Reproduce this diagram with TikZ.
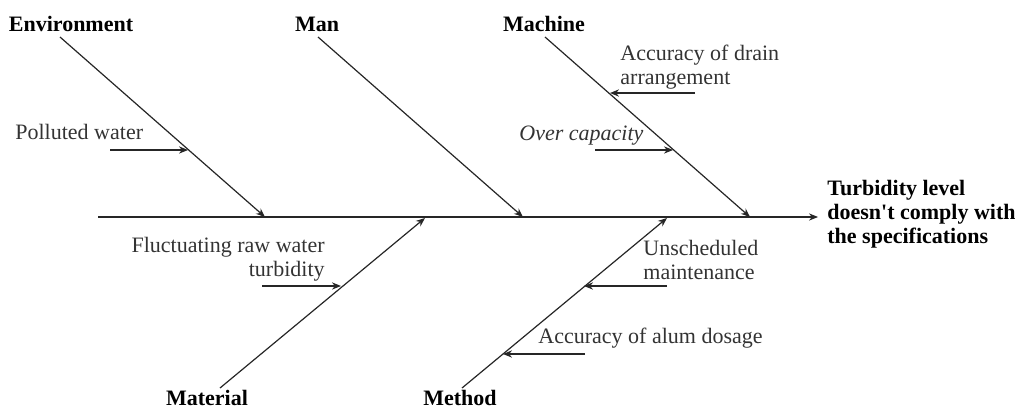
\documentclass[tikz,border=0pt]{standalone}
\usepackage{fontspec}
\setmainfont{Liberation Serif}
\usetikzlibrary{arrows.meta}

\begin{document}
\begin{tikzpicture}[x=0.5pt,y=-0.5pt,
  bone/.style={-{Stealth[length=4.5pt,width=3.6pt]}, line width=0.6pt, black!85},
  cat/.style={font=\fontsize{11}{12}\selectfont\bfseries, inner sep=0pt},
  cause/.style={font=\fontsize{11}{12}\selectfont, inner sep=0pt, text=black!80}]
\useasboundingbox (0,0) rectangle (1015,407);
% spine
\coordinate (tail) at (98,217);
\coordinate (head) at (818,217);
\node [cat, anchor=base west, align=left] (effect) at (827,243) {Turbidity level\\doesn\textquotesingle t comply with\\the specifications};
\draw [bone] (tail) -- (head);
% categories
\node [cat, anchor=base] (env) at (71,31) {Environment};
\node [cat, anchor=base] (man) at (317,31) {Man};
\node [cat, anchor=base] (mach) at (544,31) {Machine};
\node [cat, anchor=base] (mat) at (207,405) {Material};
\node [cat, anchor=base] (meth) at (460,405) {Method};
% bones
\coordinate (envA) at (60,37);   \coordinate (envB) at (265,217);
\coordinate (manA) at (318,37);  \coordinate (manB) at (523,217);
\coordinate (machA) at (545,37); \coordinate (machB) at (750,217);
\coordinate (matA) at (220,388); \coordinate (matB) at (425,218);
\coordinate (methA) at (462,388); \coordinate (methB) at (667,218);
\draw [bone] (envA) -- (envB);
\draw [bone] (manA) -- (manB);
\draw [bone] (machA) -- (machB);
\draw [bone] (matA) -- (matB);
\draw [bone] (methA) -- (methB);
% causes
\node [cause, anchor=base west] (polluted) at (15,139) {Polluted water};
\coordinate (p1) at (110,150); \coordinate (p2) at (188,150);
\draw [bone] (p1) -- (p2);
\node [cause, anchor=base west, align=left] (drain) at (620,84) {Accuracy of drain\\arrangement};
\coordinate (d1) at (695,93); \coordinate (d2) at (610,93);
\draw [bone] (d1) -- (d2);
\node [cause, anchor=base west] (overcap) at (519,140) {\itshape Over capacity};
\coordinate (o1) at (595,150); \coordinate (o2) at (673,150);
\draw [bone] (o1) -- (o2);
\node [cause, anchor=base east, align=right] (fluct) at (325,276) {Fluctuating raw water\\turbidity};
\coordinate (f1) at (262,286); \coordinate (f2) at (341,286);
\draw [bone] (f1) -- (f2);
\node [cause, anchor=base west, align=left] (unsched) at (643,279) {Unscheduled\\maintenance};
\coordinate (u1) at (667,286); \coordinate (u2) at (584,286);
\draw [bone] (u1) -- (u2);
\node [cause, anchor=base west] (alum) at (538,343) {Accuracy of alum dosage};
\coordinate (a1) at (585,354); \coordinate (a2) at (503,354);
\draw [bone] (a1) -- (a2);
\end{tikzpicture}
\end{document}
